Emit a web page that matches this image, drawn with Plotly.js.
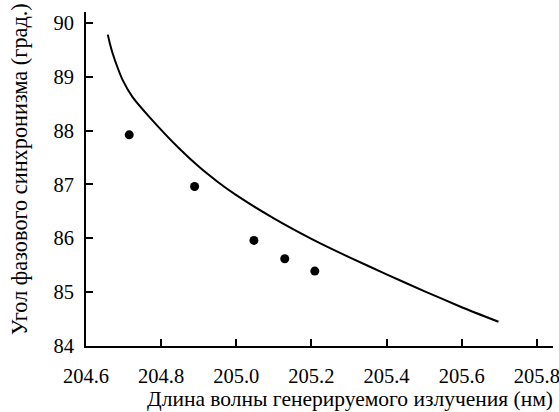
<!DOCTYPE html>
<html>
<head>
<meta charset="utf-8">
<script src="https://cdn.plot.ly/plotly-3.0.1.min.js"></script>
<style>html,body{margin:0;padding:0;background:#fff;}</style>
</head>
<body>
<div id="chart" style="width:559px;height:412px;"></div>
<script>
// Theoretical curve
const curveX = [204.658, 204.664, 204.671, 204.684, 204.698, 204.724, 204.769, 204.849, 204.90, 204.95, 205.0, 205.1, 205.2, 205.3, 205.4, 205.5, 205.6, 205.698];
const curveY = [89.78, 89.60, 89.43, 89.17, 88.93, 88.62, 88.25, 87.66, 87.33, 87.05, 86.80, 86.37, 85.99, 85.65, 85.33, 85.02, 84.72, 84.45];
// Experimental points
const expX = [204.715, 204.889, 205.047, 205.129, 205.209];
const expY = [87.92, 86.96, 85.96, 85.62, 85.39];
// Ticks
const xTicks = [204.6, 204.8, 205.0, 205.2, 205.4, 205.6, 205.8];
const xTickText = ["204.6", "204.8", "205.0", "205.2", "205.4", "205.6", "205.8"];
const yTicks = [84, 85, 86, 87, 88, 89, 90];
const xTitle = "Длина волны генерируемого излучения (нм)";
const yTitle = "Угол фазового синхронизма (град.)";

const font = "Liberation Serif";

const traces = [
  {x: curveX, y: curveY, mode: "lines", line: {color: "#000", width: 2, shape: "spline", smoothing: 0.5}, hoverinfo: "skip"},
  {x: expX, y: expY, mode: "markers", marker: {color: "#000", size: 9}, hoverinfo: "skip"}
];

const layout = {
  width: 559, height: 412,
  margin: {l: 86, r: 6, t: 12, b: 66},
  paper_bgcolor: "#fff", plot_bgcolor: "#fff",
  showlegend: false,
  font: {family: font, color: "#000", size: 20},
  xaxis: {
    range: [204.6, 205.843], tickvals: xTicks, ticktext: xTickText,
    ticks: "inside", ticklen: 7, tickwidth: 2, tickcolor: "#000",
    ticklabelstandoff: 10, ticklabeloverflow: "allow",
    showline: true, linecolor: "#000", linewidth: 2, showgrid: false, zeroline: false,
    tickfont: {family: font, size: 20.5, color: "#000"}
  },
  yaxis: {
    range: [84, 90.2], tickvals: yTicks,
    ticks: "inside", ticklen: 7, tickwidth: 2, tickcolor: "#000",
    ticklabelstandoff: 6,
    showline: true, linecolor: "#000", linewidth: 2, showgrid: false, zeroline: false,
    tickfont: {family: font, size: 20.5, color: "#000"}
  },
  annotations: [
    {text: xTitle, xref: "paper", yref: "paper", x: 0.565, y: -0.16, xanchor: "center", yanchor: "middle",
     showarrow: false, font: {family: font, size: 21.5, color: "#000"}},
    {text: yTitle, xref: "paper", yref: "paper", x: -0.141, y: 0.53, xanchor: "center", yanchor: "middle",
     textangle: -90, showarrow: false, font: {family: font, size: 22.3, color: "#000"}}
  ]
};

Plotly.newPlot("chart", traces, layout, {displayModeBar: false, staticPlot: true});
</script>
</body>
</html>
